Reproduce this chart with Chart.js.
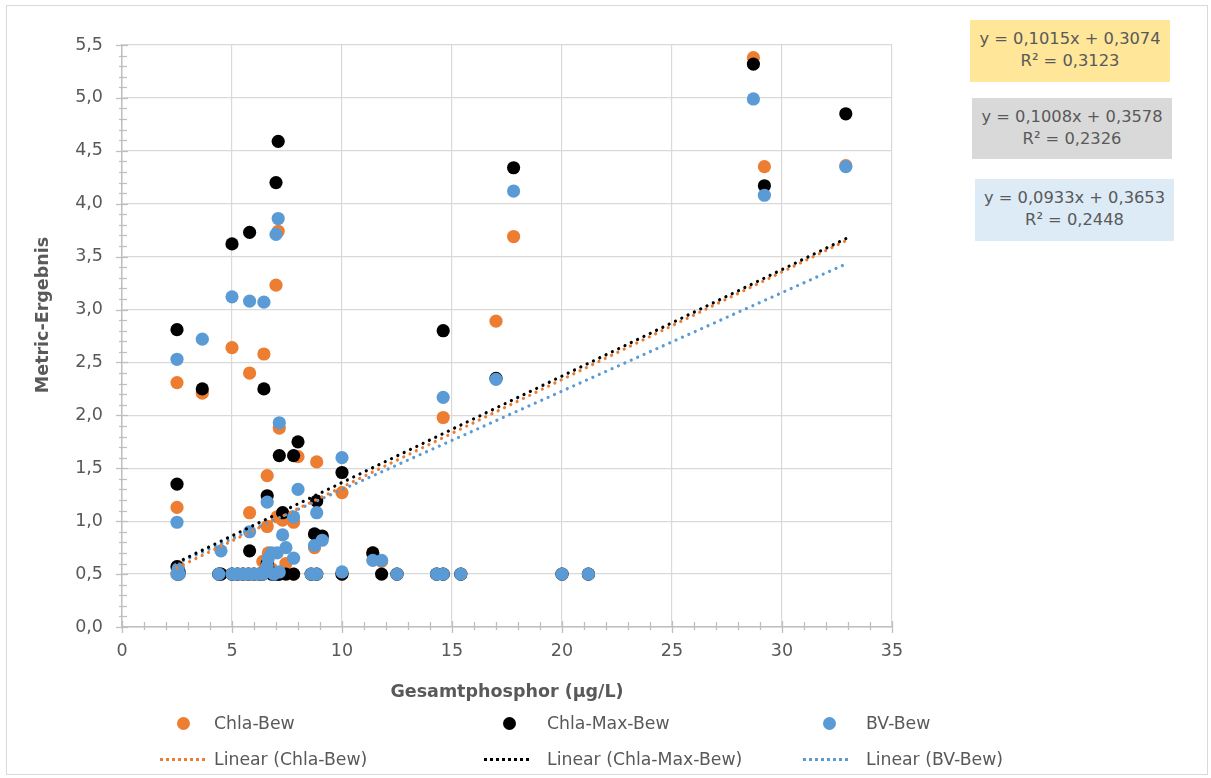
<!DOCTYPE html>
<html><head><meta charset="utf-8">
<script src="https://cdn.jsdelivr.net/npm/chart.js@4.4.0/dist/chart.umd.min.js"></script>
<style>
html,body{margin:0;padding:0;background:#fff;}
#wrap{position:relative;width:1211px;height:778px;overflow:hidden;font-family:"DejaVu Sans",sans-serif;color:#595959;}
#frame{position:absolute;left:6px;top:5px;width:1202px;height:770px;border:1px solid #D9D9D9;box-sizing:border-box;}
canvas{position:absolute;left:0;top:0;}
.eq{position:absolute;text-align:center;font-size:16.3px;line-height:22px;padding-top:8px;box-sizing:border-box;color:#595959;}
.lg{position:absolute;font-size:17.3px;line-height:22px;color:#595959;white-space:nowrap;}
.dot{position:absolute;width:13px;height:13px;border-radius:50%;}
.dl{position:absolute;height:0;border-top:3px dotted;width:45px;}
#ytitle{position:absolute;left:42px;top:315px;width:200px;height:22px;margin-left:-100px;margin-top:-11px;line-height:22px;text-align:center;font-weight:bold;font-size:17.5px;color:#595959;transform:rotate(-90deg);white-space:nowrap;}
</style>
</head><body>
<div id="wrap">
<div id="frame"></div>
<canvas id="c" width="1211" height="778"></canvas>
<div id="ytitle">Metric-Ergebnis</div>
<div class="eq" style="left:970px;top:20px;width:200px;height:62px;background:#FFE699;">y = 0,1015x + 0,3074<br>R² = 0,3123</div>
<div class="eq" style="left:972px;top:98px;width:200px;height:61px;background:#D9D9D9;">y = 0,1008x + 0,3578<br>R² = 0,2326</div>
<div class="eq" style="left:975px;top:179px;width:199px;height:62px;background:#DDEBF7;">y = 0,0933x + 0,3653<br>R² = 0,2448</div>

<div class="dot" style="left:177px;top:717px;background:#ED7D31;"></div>
<div class="lg" style="left:214px;top:712px;">Chla-Bew</div>
<div class="dot" style="left:503px;top:717px;background:#000;"></div>
<div class="lg" style="left:547px;top:712px;">Chla-Max-Bew</div>
<div class="dot" style="left:823px;top:717px;background:#5B9BD5;"></div>
<div class="lg" style="left:866px;top:712px;">BV-Bew</div>

<div class="dl" style="left:160px;top:758px;border-color:#ED7D31;"></div>
<div class="lg" style="left:214px;top:748px;">Linear (Chla-Bew)</div>
<div class="dl" style="left:484px;top:758px;border-color:#000;"></div>
<div class="lg" style="left:547px;top:748px;">Linear (Chla-Max-Bew)</div>
<div class="dl" style="left:803px;top:758px;border-color:#5B9BD5;"></div>
<div class="lg" style="left:866px;top:748px;">Linear (BV-Bew)</div>
</div>
<script>
// Gesamtphosphor (µg/L) per site
const phosphor   = [2.5,2.5,2.5,2.55,2.6,3.65,4.4,4.5,5.0,5.0,5.25,5.5,5.8,5.8,5.75,6.0,6.25,6.45,6.4,6.6,6.6,6.65,6.8,6.9,7.0,7.1,7.15,7.05,7.3,7.15,7.45,7.8,7.8,8.0,8.6,8.75,8.85,8.85,9.1,10.0,10.0,11.4,11.8,12.5,14.3,14.6,14.6,15.4,17.0,17.8,20.0,21.2,28.7,29.2,32.9];
const chlaBew    = [2.31,1.13,0.50,0.57,0.50,2.21,0.50,0.50,2.64,0.50,0.50,0.50,2.40,1.08,0.50,0.50,0.50,2.58,0.62,1.43,0.95,0.70,0.55,0.50,3.23,3.74,1.88,1.04,1.01,0.50,0.60,0.50,0.99,1.61,0.50,0.75,1.56,0.50,0.85,1.27,0.50,0.70,0.62,0.50,0.50,1.98,0.50,0.50,2.89,3.69,0.50,0.50,5.38,4.35,4.36];
const chlaMaxBew = [2.81,1.35,0.57,0.50,0.52,2.25,0.50,0.50,3.62,0.50,0.50,0.50,3.73,0.72,0.50,0.50,0.50,2.25,0.50,1.24,0.60,0.55,0.50,0.50,4.20,4.59,1.62,0.50,1.08,0.50,0.50,0.50,1.62,1.75,0.50,0.88,1.19,0.50,0.86,1.46,0.50,0.70,0.50,0.50,0.50,2.80,0.50,0.50,2.35,4.34,0.50,0.50,5.32,4.17,4.85];
const bvBew      = [2.53,0.99,0.50,0.55,0.50,2.72,0.50,0.72,3.12,0.50,0.50,0.50,3.08,0.90,0.50,0.50,0.50,3.07,0.50,1.18,0.58,0.65,0.70,0.50,3.71,3.86,1.93,0.70,0.87,0.52,0.75,0.65,1.04,1.30,0.50,0.77,1.08,0.50,0.82,1.60,0.52,0.63,0.63,0.50,0.50,2.17,0.50,0.50,2.34,4.12,0.50,0.50,4.99,4.08,4.35];
// Trendline end points
const trendX          = [2.5, 32.9];
const trendChlaBew    = [0.56, 3.65];
const trendChlaMaxBew = [0.61, 3.67];
const trendBvBew      = [0.60, 3.43];
// Axis ticks
const xTicks = [0,5,10,15,20,25,30,35];
const yTicks = [0,0.5,1,1.5,2,2.5,3,3.5,4,4.5,5,5.5];
const xMinorStep = 1, yMinorStep = 0.1;

const pts = ys => phosphor.map((x,i)=>({x, y: ys[i]}));
const tl = ys => trendX.map((x,i)=>({x, y: ys[i]}));
const FONT = '"DejaVu Sans", sans-serif';

const minorTicks = {
  id:'minorTicks',
  afterDraw(chart){
    const {ctx, scales:{x,y}} = chart;
    ctx.save();
    ctx.strokeStyle = '#BFBFBF';
    ctx.lineWidth = 1.3;
    const x0 = x.getPixelForValue(xTicks[0]);
    const y0 = y.getPixelForValue(yTicks[0]);
    const yMax = yTicks[yTicks.length-1], xMax = xTicks[xTicks.length-1];
    const ny = Math.round(yMax / yMinorStep);
    for(let i=0;i<=ny;i++){
      const py = Math.round(y.getPixelForValue(i*yMinorStep))+0.5;
      const major = i % 5 === 0;
      ctx.beginPath();
      ctx.moveTo(x0 - (major?6:3), py);
      ctx.lineTo(x0 + (major?6:5), py);
      ctx.stroke();
    }
    const nx = Math.round(xMax / xMinorStep);
    for(let i=0;i<=nx;i++){
      const px = Math.round(x.getPixelForValue(i*xMinorStep))+0.5;
      const major = i % 5 === 0;
      ctx.beginPath();
      ctx.moveTo(px, y0 - (major?6:5));
      ctx.lineTo(px, y0 + (major?6:3));
      ctx.stroke();
    }
    ctx.restore();
  }
};

const trendDs = (label, data, color, order) => ({
  label, data, showLine:true, borderColor:color, backgroundColor:color,
  borderWidth:3.2, borderDash:[0.01,7], borderCapStyle:'round', pointRadius:0, fill:false, order
});
const scatterDs = (label, data, color, order) => ({
  label, data, backgroundColor:color, borderColor:color, borderWidth:0, pointRadius:6.6, order
});

new Chart(document.getElementById('c'), {
  type:'scatter',
  data:{datasets:[
    trendDs('Linear (Chla-Max-Bew)', tl(trendChlaMaxBew), '#000000', 1),
    trendDs('Linear (Chla-Bew)', tl(trendChlaBew), '#ED7D31', 2),
    trendDs('Linear (BV-Bew)', tl(trendBvBew), '#5B9BD5', 3),
    scatterDs('BV-Bew', pts(bvBew), '#5B9BD5', 4),
    scatterDs('Chla-Max-Bew', pts(chlaMaxBew), '#000000', 5),
    scatterDs('Chla-Bew', pts(chlaBew), '#ED7D31', 6)
  ]},
  options:{
    animation:false, responsive:false, devicePixelRatio:1,
    layout:{padding:{left:30, top:45, right:319, bottom:75}},
    plugins:{legend:{display:false}, tooltip:{enabled:false}},
    scales:{
      x:{type:'linear', min:xTicks[0], max:xTicks[xTicks.length-1],
        afterBuildTicks(s){ s.ticks = xTicks.map(v=>({value:v})); },
        ticks:{color:'#595959', font:{family:FONT, size:17.5}, padding:14, callback:v=>String(v)},
        grid:{color:'#D9D9D9', lineWidth:1.2, drawTicks:false},
        border:{color:'#BFBFBF', width:1.5},
        title:{display:true, text:'Gesamtphosphor (µg/L)', color:'#595959', font:{family:FONT, size:17.5, weight:'bold'}, padding:0},
        afterFit(s){ s.height = 76; }
      },
      y:{type:'linear', min:yTicks[0], max:yTicks[yTicks.length-1],
        afterBuildTicks(s){ s.ticks = yTicks.map(v=>({value:v})); },
        ticks:{color:'#595959', font:{family:FONT, size:17.5}, padding:19, callback:v=>v.toFixed(1).replace('.',',')},
        grid:{color:'#D9D9D9', lineWidth:1.2, drawTicks:false},
        border:{color:'#BFBFBF', width:1.5},
        afterFit(s){ s.width = 92; }
      }
    }
  },
  plugins:[minorTicks]
});
</script>
</body></html>
